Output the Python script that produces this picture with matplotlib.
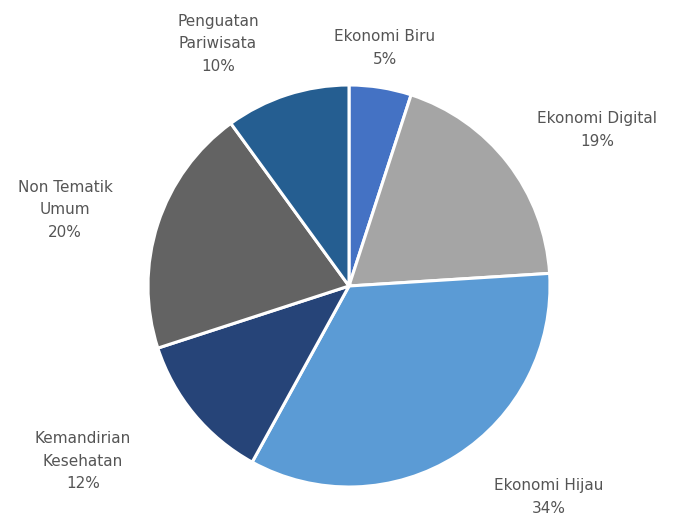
import matplotlib
matplotlib.use("Agg")
import matplotlib.pyplot as plt

categories = ["Ekonomi Biru", "Ekonomi Digital", "Ekonomi Hijau",
              "Kemandirian\nKesehatan", "Non Tematik\nUmum", "Penguatan\nPariwisata"]
values = [5, 19, 34, 12, 20, 10]
colors = ["#4472C4", "#A5A5A5", "#5B9BD5", "#264478", "#636363", "#255E91"]

W, H = 677, 517
cx, cy, R = 349, 286, 201

fig = plt.figure(figsize=(W / 100, H / 100), dpi=100)
ax = fig.add_axes([0, 0, 1, 1])
ax.pie(values, colors=colors, startangle=90, counterclock=False,
       wedgeprops=dict(edgecolor="white", linewidth=2.2))
ax.set_xlim(-cx / R, (W - cx) / R)
ax.set_ylim(-(H - cy) / R, cy / R)
ax.set_aspect("auto")
ax.axis("off")

# label centres in pixel coordinates
label_px = [(385, 48), (597, 130), (549, 497), (83, 461), (65, 210), (218, 44)]
for cat, v, (px, py) in zip(categories, values, label_px):
    ax.text((px - cx) / R, (cy - py) / R, f"{cat}\n{v}%", ha="center", va="center",
            fontsize=11, color="#555555", linespacing=1.6,
            family=["DejaVu Sans"])

fig.savefig("out.png", dpi=100)
